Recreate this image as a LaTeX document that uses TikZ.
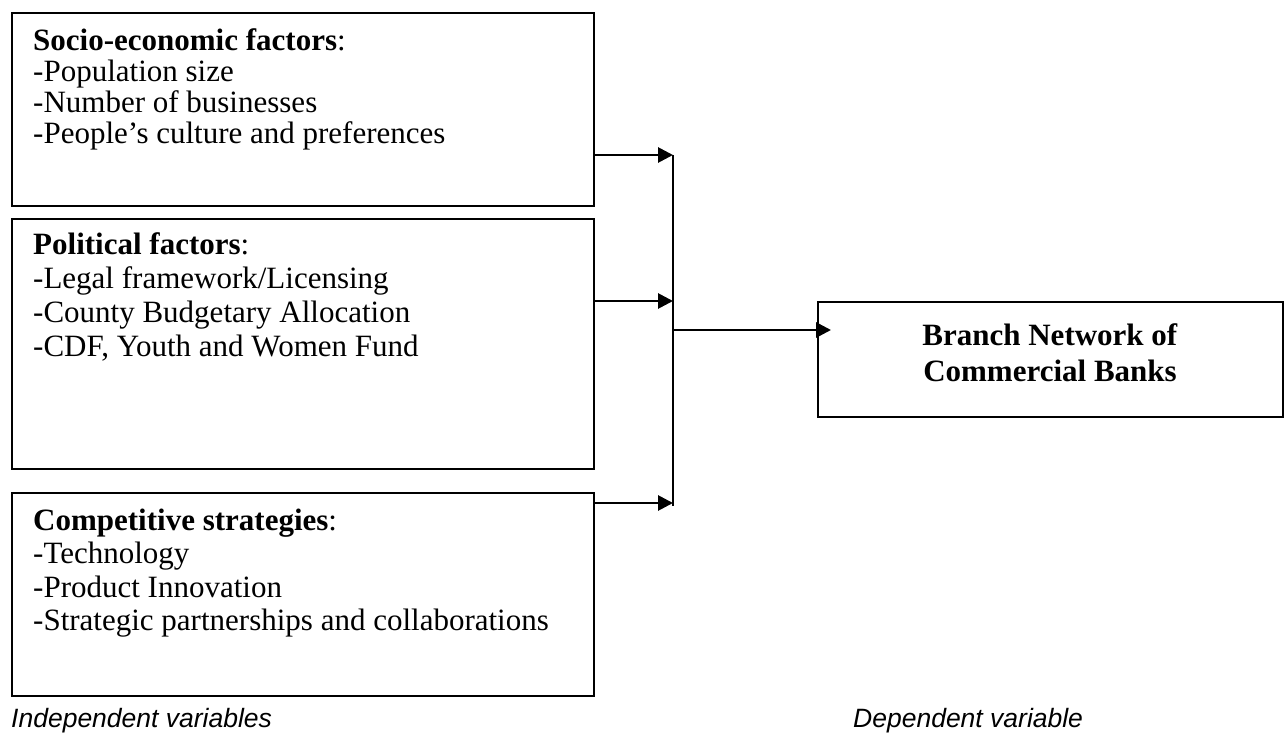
\documentclass[tikz,border=0pt]{standalone}
\usepackage{fontspec}
\setmainfont{Liberation Serif}
\newfontfamily\labelfont{Liberation Sans}
\usetikzlibrary{arrows.meta}
\tikzset{
  box/.style={draw, line width=1.8pt, inner sep=0pt, anchor=north west},
  txt/.style={inner sep=0pt, anchor=base west},
  lbl/.style={inner sep=0pt, anchor=base west, font=\labelfont\itshape\fontsize{26.5}{30}\selectfont},
  arr/.style={line width=2.8pt, -{Triangle[length=15pt,width=15pt]}},
  conn/.style={line width=2.2pt}
}
\begin{document}
\begin{tikzpicture}[x=1pt,y=-1pt]
\useasboundingbox (0,0) rectangle (1284,746);
% boxes
\node[box, minimum width=582pt, minimum height=193pt] (s1) at (11,12) {};
\node[box, minimum width=582pt, minimum height=250pt] (p1) at (11,218) {};
\node[box, minimum width=582pt, minimum height=203pt] (c1) at (11,492) {};
\node[box, minimum width=465pt, minimum height=115pt] (b1) at (817,301) {};
% texts
\node[txt, font=\fontsize{31}{30}\selectfont] (s1t) at (33,51) {\begin{tabular}[t]{@{}l@{}}\textbf{Socio-economic factors}:\\-Population size\\-Number of businesses\\-People’s culture and preferences\end{tabular}};
\node[txt, font=\fontsize{31}{34}\selectfont] (p1t) at (33,254) {\begin{tabular}[t]{@{}l@{}}\textbf{Political factors}:\\-Legal framework/Licensing\\-County Budgetary Allocation\\-CDF, Youth and Women Fund\end{tabular}};
\node[txt, font=\fontsize{31}{33.5}\selectfont] (c1t) at (33,530) {\begin{tabular}[t]{@{}l@{}}\textbf{Competitive strategies}:\\-Technology\\-Product Innovation\\-Strategic partnerships and collaborations\end{tabular}};
\node[txt, anchor=base, font=\fontsize{31}{36}\selectfont] (b1t) at (1050,345) {\begin{tabular}[t]{@{}c@{}}\textbf{Branch Network of}\\\textbf{Commercial Banks}\end{tabular}};
% labels
\node[lbl] (ind) at (11,727) {Independent variables};
\node[lbl] (dep) at (853,727) {Dependent variable};
% connectors
\coordinate (j1) at (673,155);
\coordinate (j2) at (673,301);
\coordinate (j3) at (673,503);
\coordinate (jb) at (673,506);
\coordinate (jm) at (673,330);
\draw[conn] (j1) -- (jb);
\draw[arr] (s1.east |- j1) -- (j1);
\draw[arr] (p1.east |- j2) -- (j2);
\draw[arr] (c1.east |- j3) -- (j3);
\draw[arr] (jm) -- ([xshift=14pt]b1.west |- jm);
\end{tikzpicture}
\end{document}
